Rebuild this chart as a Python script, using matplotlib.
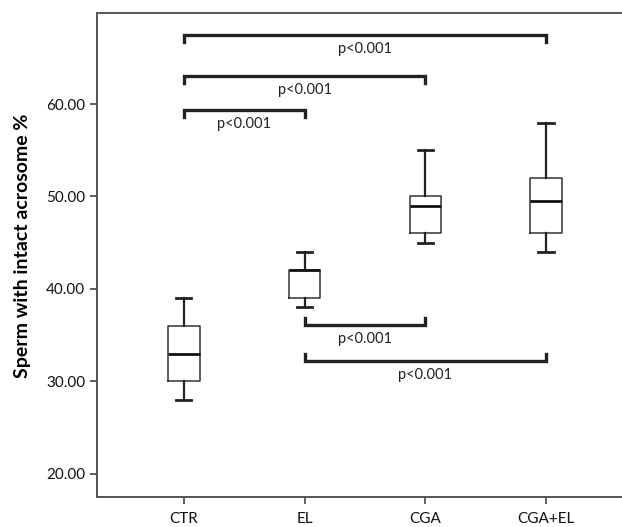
import matplotlib
matplotlib.use("Agg")
import matplotlib.pyplot as plt

# box summary
groups = ["CTR", "EL", "CGA", "CGA+EL"]
whisker_low = [28, 38, 45, 44]
q1 = [30, 39, 46, 46]
medians = [33, 42, 49, 49.5]
q3 = [36, 42, 50, 52]
whisker_high = [39, 44, 55, 58]

# significance brackets (group index pairs)
top_pairs = [(0, 3), (0, 2), (0, 1)]
top_labels = ["p<0.001", "p<0.001", "p<0.001"]
bottom_pairs = [(1, 2), (1, 3)]
bottom_labels = ["p<0.001", "p<0.001"]

plt.rcParams["font.family"] = ["Lato", "DejaVu Sans"]

fig = plt.figure(figsize=(6.22, 5.27), dpi=100)
ax = fig.add_axes([0.156, 0.057, 0.844, 0.9175])

stats = []
for i, g in enumerate(groups):
    stats.append({"label": g, "whislo": whisker_low[i], "q1": q1[i], "med": medians[i],
                  "q3": q3[i], "whishi": whisker_high[i], "fliers": []})

pos = list(range(1, len(groups) + 1))
ax.bxp(stats, positions=pos, widths=0.26, showfliers=False,
       boxprops=dict(color="#333333", linewidth=1.1),
       medianprops=dict(color="#111111", linewidth=2.0),
       whiskerprops=dict(color="#222222", linewidth=1.6),
       capprops=dict(color="#222222", linewidth=2.0),
       capwidths=0.125)

# brackets above
top_levels = [67.45, 63.05, 59.35]
for (a, b), lab, y in zip(top_pairs, top_labels, top_levels):
    x1, x2 = pos[a], pos[b]
    ax.plot([x1, x1, x2, x2], [y - 0.75, y, y, y - 0.75], color="#222222", lw=2.4,
            solid_joinstyle="miter")
    ax.text((x1 + x2) / 2, y - 1.5, lab, ha="center", va="center", fontsize=10.5, color="#222222")

# brackets below
bottom_levels = [36.1, 32.2]
for (a, b), lab, y in zip(bottom_pairs, bottom_labels, bottom_levels):
    x1, x2 = pos[a], pos[b]
    ax.plot([x1, x1, x2, x2], [y + 0.75, y, y, y + 0.75], color="#222222", lw=2.4,
            solid_joinstyle="miter")
    ax.text((x1 + x2) / 2, y - 1.5, lab, ha="center", va="center", fontsize=10.5, color="#222222")

ax.set_xlim(0.28, 4.63)
ax.set_ylim(17.5, 69.8)
ax.set_yticks([20, 30, 40, 50, 60])
ax.set_yticklabels([f"{v:.2f}" for v in [20, 30, 40, 50, 60]])
ax.set_xticks(pos)
ax.set_xticklabels(groups)
ax.tick_params(axis="both", labelsize=11, length=5, width=1.2, colors="#444444", labelcolor="#111111")
ax.tick_params(axis="x", pad=6)

for s in ["left", "bottom", "top"]:
    ax.spines[s].set_color("#555555")
    ax.spines[s].set_linewidth(1.4)
ax.spines["right"].set_visible(False)

ax.set_ylabel("Sperm with intact acrosome %", fontsize=14, fontweight="bold")
ax.yaxis.set_label_coords(-0.125, 0.52)

fig.savefig("out.png", dpi=100)
